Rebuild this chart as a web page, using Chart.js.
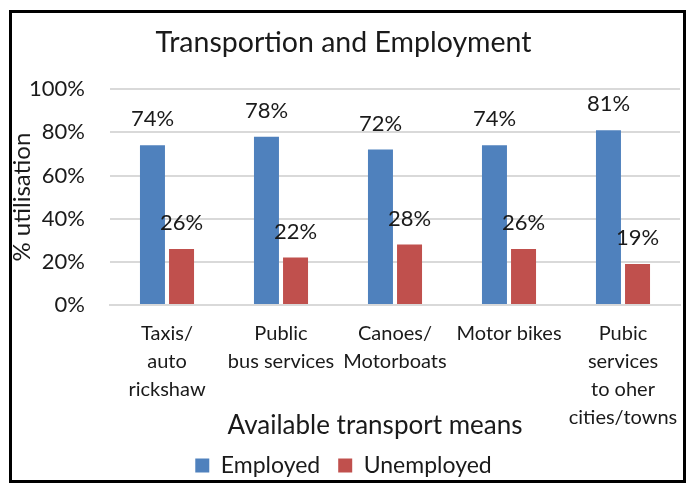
<!DOCTYPE html>
<html>
<head>
<meta charset="utf-8">
<script src="https://cdn.jsdelivr.net/npm/chart.js@4"></script>
<style>
  html, body { margin: 0; padding: 0; background: #fff; }
  #chart { position: absolute; left: 0; top: 0; display: block; }
  #frame {
    position: absolute; left: 9px; top: 10px;
    width: 671px; height: 467px;
    border: 3px solid #000;
    pointer-events: none;
  }
</style>
</head>
<body>
<canvas id="chart" width="690" height="484"></canvas>
<div id="frame"></div>
<script>
// chart data
const categories = [
    ['Taxis/', 'auto', 'rickshaw'],
    ['Public', 'bus services'],
    ['Canoes/', 'Motorboats'],
    ['Motor bikes'],
    ['Pubic', 'services', 'to oher', 'cities/towns']
];
const employed = [74, 78, 72, 74, 81];
const unemployed = [26, 22, 28, 26, 19];
const yTicks = [0, 20, 40, 60, 80, 100];

const FONT = 'Lato, "Open Sans", sans-serif';

// draws the % value above every bar
const barLabels = {
    id: 'barLabels',
    afterDatasetsDraw(chart) {
        const ctx = chart.ctx;
        ctx.save();
        ctx.font = '22px ' + FONT;
        ctx.fillStyle = '#1a1a1a';
        ctx.textAlign = 'center';
        ctx.textBaseline = 'middle';
        chart.data.datasets.forEach((ds, i) => {
            chart.getDatasetMeta(i).data.forEach((bar, j) => {
                ctx.fillText(ds.data[j] + '%', bar.x, bar.y - 26);
            });
        });
        ctx.restore();
    }
};

const ctx = document.getElementById('chart').getContext('2d');
const myChart = new Chart(ctx, {
    type: 'bar',
    data: {
        labels: categories,
        datasets: [{
            label: 'Employed',
            data: employed,
            backgroundColor: '#4f81bd',
            barPercentage: 0.86,
            categoryPercentage: 0.51
        }, {
            label: 'Unemployed',
            data: unemployed,
            backgroundColor: '#c0504d',
            barPercentage: 0.86,
            categoryPercentage: 0.51
        }]
    },
    options: {
        responsive: false,
        animation: false,
        layout: { padding: { left: 7, right: 10, top: 0, bottom: -3 } },
        plugins: {
            title: {
                display: true,
                text: 'Transportion and Employment',
                color: '#1a1a1a',
                font: { family: FONT, size: 28.5, weight: 'normal' },
                padding: { top: 26, bottom: 29 }
            },
            legend: {
                position: 'bottom',
                labels: {
                    color: '#1a1a1a',
                    font: { family: FONT, size: 23 },
                    boxWidth: 14,
                    boxHeight: 14,
                    padding: 18
                }
            },
            tooltip: { enabled: false }
        },
        scales: {
            x: {
                afterFit: (axis) => { axis.height = 131; },
                grid: { display: false },
                border: { color: '#d9d9d9', width: 2 },
                ticks: {
                    color: '#1a1a1a',
                    font: { family: FONT, size: 20, lineHeight: 1.4 },
                    maxRotation: 0,
                    autoSkip: false,
                    padding: 7
                },
                title: {
                    display: true,
                    // trailing spaces shift the centred title left, as in the original
                    text: 'Available transport means' + '\u00a0'.repeat(6),
                    color: '#1a1a1a',
                    font: { family: FONT, size: 26 },
                    padding: { top: 0, bottom: -5 }
                }
            },
            y: {
                min: 0,
                max: 100,
                afterBuildTicks: (axis) => { axis.ticks = yTicks.map(v => ({ value: v })); },
                afterFit: (axis) => { axis.width = 103; },
                grid: { color: '#d9d9d9', lineWidth: 2, drawTicks: false },
                border: { display: false },
                ticks: {
                    color: '#1a1a1a',
                    font: { family: FONT, size: 22 },
                    padding: 25,
                    callback: (v) => v + '%'
                },
                title: {
                    display: true,
                    text: '% utilisation',
                    color: '#1a1a1a',
                    font: { family: FONT, size: 24 },
                    padding: { top: 1, bottom: 0 }
                }
            }
        }
    },
    plugins: [barLabels]
});
</script>
</body>
</html>
